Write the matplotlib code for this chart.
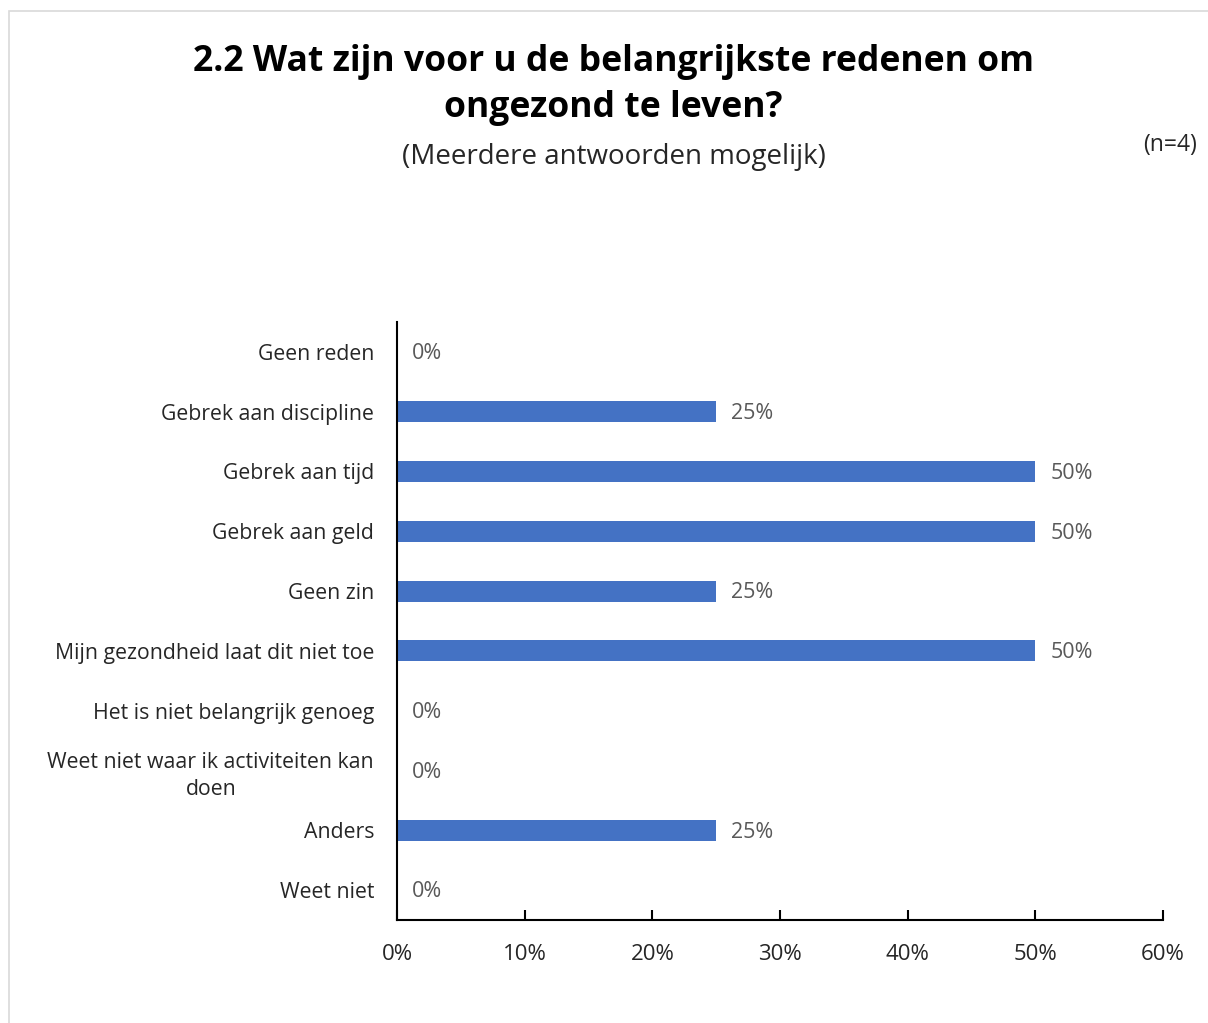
import matplotlib.pyplot as plt
from matplotlib.patches import Rectangle
from matplotlib.ticker import PercentFormatter

plt.rcParams['font.family'] = ['Open Sans', 'DejaVu Sans']

# data (top to bottom as shown)
categories = ['Geen reden', 'Gebrek aan discipline', 'Gebrek aan tijd', 'Gebrek aan geld',
              'Geen zin', 'Mijn gezondheid laat dit niet toe', 'Het is niet belangrijk genoeg',
              'Weet niet waar ik activiteiten kan\ndoen', 'Anders', 'Weet niet']
values = [0, 25, 50, 50, 25, 50, 0, 0, 25, 0]
xticks = [0, 10, 20, 30, 40, 50, 60]

fig = plt.figure(figsize=(12.08, 10.23), dpi=100)
W, H = 1208, 1023

# light chart border (runs off the right and bottom edges)
fig.patches.append(Rectangle((9 / W, -0.2), 1.2, 1.2 - 11 / H, transform=fig.transFigure,
                             fill=False, edgecolor='#d9d9d9', linewidth=1.2))

ax = fig.add_axes([397 / W, 1 - 920 / H, (1163 - 397) / W, (920 - 322) / H])

ypos = list(range(len(categories)))
ax.barh(ypos, values, height=0.35, color='#4472C4')
ax.set_ylim(len(categories) - 0.5, -0.5)
ax.set_xlim(0, 60)

for y, v in zip(ypos, values):
    ax.text(v + 1.2, y + 0.03, f'{v}%', va='center', ha='left', fontsize=15.5, color='#595959')

ax.set_yticks(ypos)
ax.set_yticklabels(categories, fontsize=15.3, color='#262626')
for lab in ax.get_yticklabels():
    lab.set_multialignment('center')
    lab.set_linespacing(1.35)
ax.tick_params(axis='y', length=0, pad=16.5)

ax.set_xticks(xticks)
ax.xaxis.set_major_formatter(PercentFormatter(decimals=0))
ax.tick_params(axis='x', direction='in', length=7, width=1.5, labelsize=16,
               labelcolor='#262626', pad=17.4)

for s in ['top', 'right']:
    ax.spines[s].set_visible(False)
ax.spines['left'].set_linewidth(1.5)
ax.spines['bottom'].set_linewidth(1.5)

fig.text(0.508, 1 - 85 / H, '2.2 Wat zijn voor u de belangrijkste redenen om\nongezond te leven?',
         ha='center', va='center', fontsize=25.6, fontweight='bold', linespacing=1.4)
fig.text(0.508, 1 - 157 / H, '(Meerdere antwoorden mogelijk)', ha='center', va='center',
         fontsize=20, color='#262626')
fig.text(1170 / W, 1 - 145 / H, '(n=4)', ha='center', va='center', fontsize=16.5, color='#262626')

fig.savefig('out.png', dpi=100)
